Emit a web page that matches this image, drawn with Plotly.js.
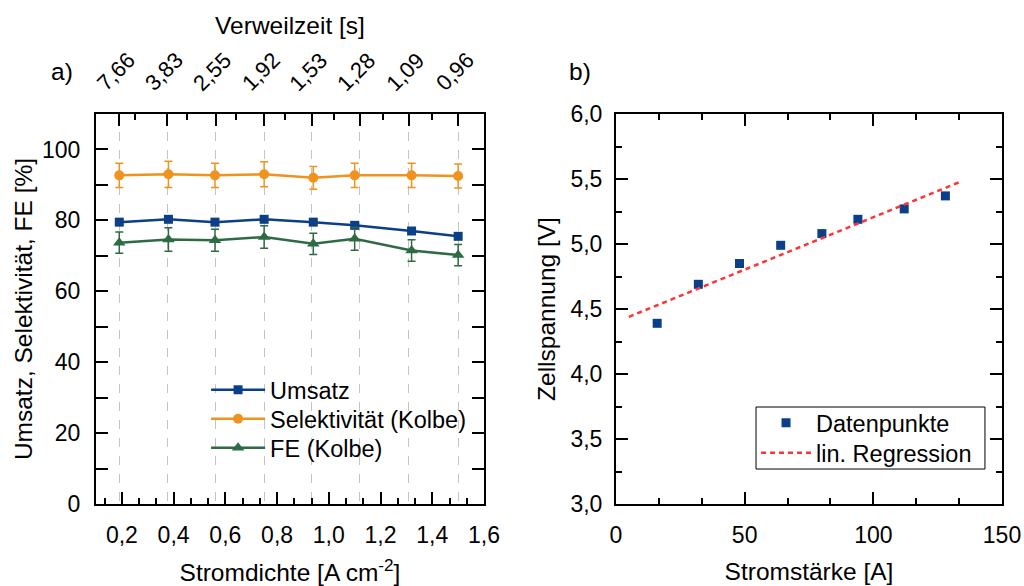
<!DOCTYPE html>
<html><head><meta charset="utf-8">
<script src="https://cdn.plot.ly/plotly-3.0.1.min.js"></script>
<style>html,body{margin:0;padding:0;background:#fff}#chart{width:1024px;height:586px}</style>
</head><body><div id="chart"></div>
<script>
// Panel a) data
const stromdichte = [0.19, 0.38, 0.56, 0.75, 0.94, 1.10, 1.32, 1.50];
const umsatz = [79.5, 80.3, 79.5, 80.3, 79.5, 78.6, 77.0, 75.5];
const selektivitaet = [92.7, 93.0, 92.7, 93.0, 92.0, 92.7, 92.7, 92.5];
const selektivitaetErr = [3.4, 3.7, 3.4, 3.5, 3.2, 3.4, 3.4, 3.4];
const fe = [73.7, 74.6, 74.4, 75.3, 73.4, 74.8, 71.5, 70.2];
const feErr = [3.0, 3.3, 3.1, 3.2, 3.0, 3.2, 3.0, 3.0];
// top axis (Verweilzeit)
const verweilzeitPos = [0.19, 0.375, 0.5625, 0.75, 0.935, 1.12, 1.31, 1.50];
const verweilzeitLabels = ['7,66', '3,83', '2,55', '1,92', '1,53', '1,28', '1,09', '0,96'];
const verweilzeitMinor = [0.25, 0.45, 0.64, 0.83, 1.02, 1.21, 1.40];

// Panel b) data
const stromstaerke = [16, 32, 48, 64, 80, 94, 112, 128];
const zellspannung = [4.39, 4.69, 4.85, 4.99, 5.08, 5.19, 5.27, 5.37];
const regX = [5, 134];
const regY = [4.44, 5.48];

const FONT = 'Liberation Sans, Arial, sans-serif';
const cBlue = '#0b3f88', cOrange = '#f0931e', cGreen = '#2e6b45';

const traces = [
  {x: stromdichte, y: umsatz, name: 'Umsatz', type: 'scatter', mode: 'lines+markers',
   line: {color: cBlue, width: 2.5}, marker: {symbol: 'square', size: 9, color: cBlue},
   xaxis: 'x', yaxis: 'y', legend: 'legend'},
  {x: stromdichte, y: selektivitaet, name: 'Selektivität (Kolbe)', type: 'scatter', mode: 'lines+markers',
   line: {color: cOrange, width: 2.5}, marker: {symbol: 'circle', size: 10, color: cOrange},
   error_y: {type: 'data', array: selektivitaetErr, visible: true, color: cOrange, thickness: 1.5, width: 4},
   xaxis: 'x', yaxis: 'y', legend: 'legend3'},
  {x: stromdichte, y: fe, name: 'FE (Kolbe)', type: 'scatter', mode: 'lines+markers',
   line: {color: cGreen, width: 2.5}, marker: {symbol: 'triangle-up', size: 11, color: cGreen},
   error_y: {type: 'data', array: feErr, visible: true, color: cGreen, thickness: 1.5, width: 4},
   xaxis: 'x', yaxis: 'y', legend: 'legend4'},
  // carrier (draws nothing) so that the top Verweilzeit axis is rendered
  {x: stromdichte, y: umsatz, type: 'scatter', mode: 'none', showlegend: false, hoverinfo: 'skip',
   xaxis: 'x2', yaxis: 'y'},
  {x: stromstaerke, y: zellspannung, name: 'Datenpunkte', type: 'scatter', mode: 'markers',
   marker: {symbol: 'square', size: 9, color: cBlue},
   xaxis: 'x3', yaxis: 'y3', legend: 'legend2'},
  {x: regX, y: regY, name: 'lin. Regression', type: 'scatter', mode: 'lines',
   line: {color: '#ff3333', width: 2.5, dash: '5px,4px'},
   xaxis: 'x3', yaxis: 'y3', legend: 'legend5'}
];

const axisCommon = {
  showline: true, linewidth: 2, linecolor: '#000', ticks: 'inside', ticklen: 12, tickwidth: 2,
  tickcolor: '#000', zeroline: false, showgrid: false,
  tickfont: {family: FONT, size: 23, color: '#000'}
};
const titleFont = {family: FONT, size: 24.5, color: '#000'};
const legFont = {family: FONT, size: 23.5, color: '#000'};
function leg(x, y, w) {
  return {x: x, y: y, xanchor: 'left', yanchor: 'middle', bgcolor: 'rgba(0,0,0,0)', borderwidth: 0,
          font: legFont, itemwidth: w};
}

// rotated top-axis labels, centred over their ticks
const topLabels = verweilzeitLabels.map(function (t, i) {
  return {text: t, xref: 'x2', yref: 'paper', x: verweilzeitPos[i], y: 1.1077, xshift: -3,
          textangle: -45, showarrow: false, xanchor: 'center', yanchor: 'middle',
          font: {family: FONT, size: 22, color: '#000'}};
});

const layout = {
  width: 1024, height: 586,
  margin: {l: 96, r: 22, t: 114, b: 82},
  paper_bgcolor: '#fff', plot_bgcolor: 'rgba(0,0,0,0)',
  separators: ',.',
  font: {family: FONT, color: '#000'},
  xaxis: Object.assign({}, axisCommon, {
    domain: [0, 0.42826], anchor: 'y', range: [0.1, 1.6], dtick: 0.2, tick0: 0, tickformat: '.1f',
    ticklabelstandoff: 9,
    minor: {dtick: 0.2 / 3, tick0: 0, ticks: 'inside', ticklen: 6, tickwidth: 2, tickcolor: '#000'},
    title: {text: 'Stromdichte [A cm<sup>-2</sup>]', font: titleFont, standoff: 20}
  }),
  xaxis2: Object.assign({}, axisCommon, {
    overlaying: 'x', side: 'top', anchor: 'y', range: [0.1, 1.6],
    tickmode: 'array', tickvals: verweilzeitPos, showticklabels: false,
    minor: {tickmode: 'array', tickvals: verweilzeitMinor, ticks: 'inside', ticklen: 6, tickwidth: 2, tickcolor: '#000'},
    showgrid: true, griddash: 'dash', gridcolor: '#c4c4c4', gridwidth: 1,
    title: {text: 'Verweilzeit [s]', font: titleFont, standoff: 70}
  }),
  yaxis: Object.assign({}, axisCommon, {
    domain: [0, 1], anchor: 'x', range: [0, 110], dtick: 20, mirror: 'ticks',
    ticklabelstandoff: 9,
    minor: {dtick: 10, ticks: 'inside', ticklen: 12, tickwidth: 2, tickcolor: '#000'},
    title: {text: 'Umsatz, Selektivität, FE [%]', font: titleFont, standoff: 2}
  }),
  xaxis3: Object.assign({}, axisCommon, {
    domain: [0.57395, 1], anchor: 'y3', range: [0, 150], dtick: 50, mirror: 'ticks',
    ticklabelstandoff: 9,
    minor: {dtick: 50 / 3, ticks: 'inside', ticklen: 6, tickwidth: 2, tickcolor: '#000'},
    title: {text: 'Stromstärke [A]', font: titleFont, standoff: 16}
  }),
  yaxis3: Object.assign({}, axisCommon, {
    domain: [0, 1], anchor: 'x3', range: [3, 6], dtick: 0.5, tickformat: '.1f', mirror: 'ticks',
    ticklabelstandoff: 7,
    minor: {dtick: 0.25, ticks: 'inside', ticklen: 6, tickwidth: 2, tickcolor: '#000'},
    title: {text: 'Zellspannung [V]', font: titleFont, standoff: 8}
  }),
  legend: leg(0.1215, 0.2923, 54),
  legend3: leg(0.1215, 0.2179, 54),
  legend4: leg(0.1215, 0.1436, 54),
  legend2: leg(0.7285, 0.2077, 50),
  legend5: leg(0.7285, 0.1308, 50),
  shapes: [
    {type: 'rect', xref: 'paper', yref: 'paper', x0: 0.7285, x1: 0.9812, y0: 0.0897, y1: 0.2487,
     line: {color: '#000', width: 1}, fillcolor: '#fff', layer: 'above'}
  ],
  annotations: [
    {text: 'a)', xref: 'paper', yref: 'paper', x: -0.0375, y: 1.1077, showarrow: false,
     xanchor: 'center', yanchor: 'middle', font: {family: FONT, size: 24.5, color: '#000'}},
    {text: 'b)', xref: 'paper', yref: 'paper', x: 0.5342, y: 1.1077, showarrow: false,
     xanchor: 'center', yanchor: 'middle', font: {family: FONT, size: 24.5, color: '#000'}}
  ].concat(topLabels),
  showlegend: true
};

Plotly.newPlot('chart', traces, layout, {displayModeBar: false, staticPlot: true});
</script>
</body></html>
